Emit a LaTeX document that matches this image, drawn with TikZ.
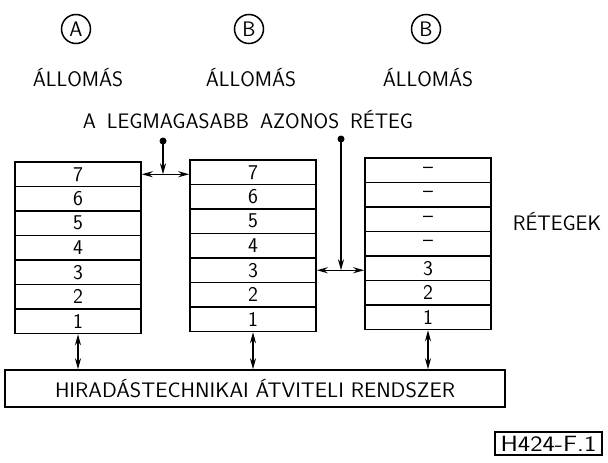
\documentclass[tikz,border=0pt]{standalone}
\usepackage{fontspec}
\usepackage{graphicx}
\usetikzlibrary{arrows.meta}

\tikzset{
  layer/.style={draw, rectangle, minimum width=126pt, minimum height=24.5pt, inner sep=0pt},
  station/.style={draw, circle, minimum size=29pt, inner sep=0pt},
  lbl/.style={inner sep=0pt, anchor=base}
}

\begin{document}
\begin{tikzpicture}[x=1pt, y=-1pt, >={Stealth[length=11pt,width=6pt]}, line width=1.5pt,
    every node/.style={font=\fontsize{21}{25}\selectfont\sffamily}]
  \useasboundingbox (0,0) rectangle (608,463);

  % 1. allomasok jelei es feliratai
  \node[station] (stA) at (76,29) {A};
  \node[station] (stB) at (249,29) {B};
  \node[station] (stC) at (426,29) {B};
  \node[lbl] (allA) at (78,86) {ÁLLOMÁS};
  \node[lbl] (allB) at (251,86) {ÁLLOMÁS};
  \node[lbl] (allC) at (428,86) {ÁLLOMÁS};
  \node[lbl] (cim) at (248,128) {A\hspace{11pt}LEGMAGASABB\hspace{11pt}AZONOS\hspace{11pt}RÉTEG};

  % 2. retegek (7 sor allomasonkent)
  \foreach \n [count=\i from 0] in {7,6,5,4,3,2,1}{
    \node[layer] (a\n) at (78,{162+12.25+24.5*\i}) {\n};
    \node[layer] (b\n) at (253,{160+12.25+24.5*\i}) {\n};
  }
  \foreach \n/\t [count=\i from 0] in {7/--,6/--,5/--,4/--,3/3,2/2,1/1}{
    \node[layer] (c\n) at (428,{158+12.25+24.5*\i}) {\t};
  }
  \node[lbl] (retegek) at (557,230) {RÉTEGEK};

  % 3. atviteli rendszer es abraszam
  \node[draw, rectangle, minimum width=500pt, minimum height=37pt, inner sep=0pt] (bus) at (255,388.5)
    {\scalebox{1.04}[1]{HIRADÁSTECHNIKAI\ ÁTVITELI\ RENDSZER}};
  \node[draw, rectangle, minimum width=107pt, minimum height=23pt, inner sep=0pt] (jel) at (548.5,443.5)
    {\scalebox{1.25}[1.05]{H424-F.1}};

  % 4. legmagasabb azonos reteg jelolese
  \coordinate (pAB) at (163,141);
  \coordinate (jAB) at (pAB |- a7.east);
  \coordinate (pBC) at (341,139);
  \coordinate (jBC) at (pBC |- b3.east);
  \fill (pAB) circle (3.5pt);
  \fill (pBC) circle (3.5pt);
  \draw[->] (pAB) -- (jAB);
  \draw[->] (pBC) -- (jBC);
  \draw[->] (jAB) -- (a7.east);
  \draw[->] (jAB) -- (jAB -| b7.west);
  \draw[->] (jBC) -- (b3.east);
  \draw[->] (jBC) -- (jBC -| c3.west);

  % 5. kapcsolat az atviteli rendszerrel
  \draw[<->] (a1.south) -- (a1.south |- bus.north);
  \draw[<->] (b1.south) -- (b1.south |- bus.north);
  \draw[<->] (c1.south) -- (c1.south |- bus.north);
\end{tikzpicture}
\end{document}
